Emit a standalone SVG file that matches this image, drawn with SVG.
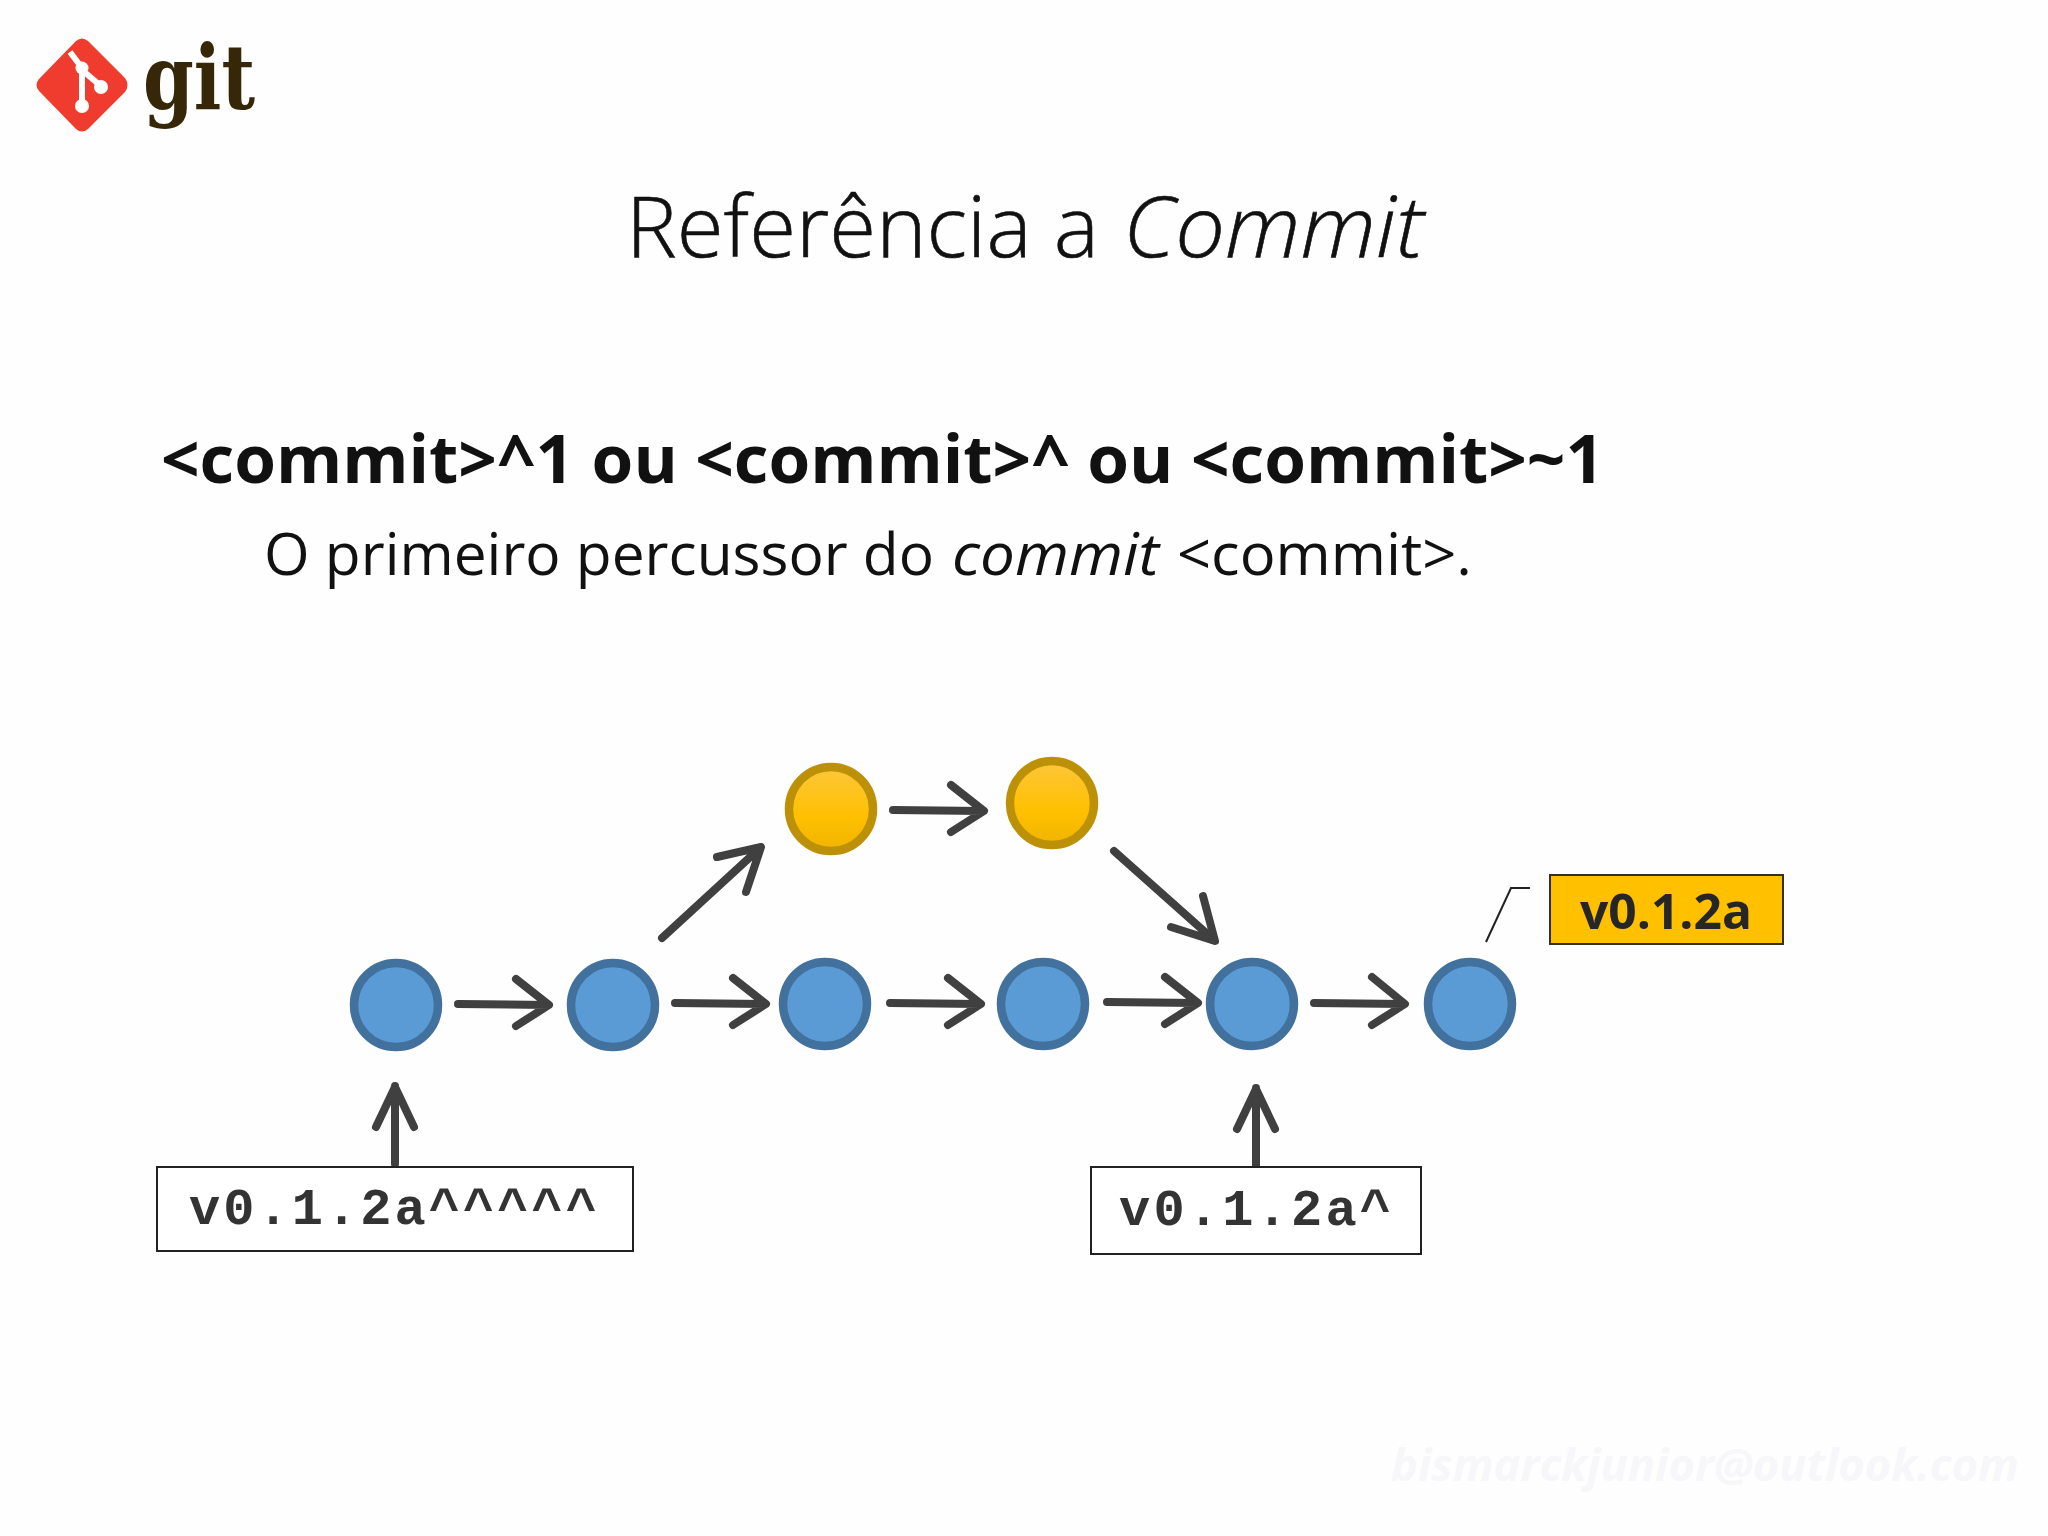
<svg xmlns="http://www.w3.org/2000/svg" width="2048" height="1536" viewBox="0 0 2048 1536">
<style>
.b{fill:#5b9bd5;stroke:#41719c;stroke-width:8.500}
.y{fill:url(#gy);stroke:#bd9107;stroke-width:8.500}
.a{fill:none;stroke:#404040;stroke-width:8;stroke-linecap:round;stroke-linejoin:round}
.box{fill:#fff;stroke:#222;stroke-width:2}
.mono{font-family:"Liberation Mono",monospace;font-weight:700;font-size:52px;fill:#333}
.s{font-family:"Open Sans",sans-serif;fill:#111}
</style>
<defs>
<linearGradient id="gy" x1="0" y1="0" x2="0" y2="1"><stop offset="0" stop-color="#fdc63a"/><stop offset="0.6" stop-color="#ffc000"/><stop offset="1" stop-color="#f0b400"/></linearGradient>
</defs>
<rect width="2048" height="1536" fill="#fefefe"/>
<g id="logo">
<path d="M76 41 Q82 36 88 41 L125 78 Q130 85 125 92 L88 129 Q82 134 76 129 L39 91 Q34 85 39 79Z" fill="#f03c2e"/>
<path d="M70 52 L82 68 M82 68 V106 M82 70 L102 87" fill="none" stroke="#fff" stroke-width="6"/>
<circle cx="82" cy="68" r="6.500" fill="#fff"/><circle cx="101" cy="87" r="7" fill="#fff"/><circle cx="82" cy="106" r="7" fill="#fff"/>
<text x="143" y="109" font-family="'DejaVu Serif',serif" font-weight="700" font-size="90" fill="#362709" textLength="112" lengthAdjust="spacingAndGlyphs">git</text>
</g>
<g id="title" class="s" font-size="84" font-weight="300" stroke="#111" stroke-width="0.600">
<text class="s" x="626" y="257" textLength="473" lengthAdjust="spacingAndGlyphs">Referência a</text>
<text class="s" x="1123" y="257" font-style="italic" textLength="301" lengthAdjust="spacingAndGlyphs">Commit</text>
</g>
<text id="heading" class="s" x="161" y="483" font-size="66" font-weight="700" fill="#0a0a0a" textLength="1443" lengthAdjust="spacingAndGlyphs">&lt;commit&gt;^1 ou &lt;commit&gt;^ ou &lt;commit&gt;~1</text>
<g id="desc" class="s" font-size="58">
<text class="s" x="264" y="575" textLength="670" lengthAdjust="spacingAndGlyphs">O primeiro percussor do</text>
<text class="s" x="952" y="575" font-style="italic" textLength="207" lengthAdjust="spacingAndGlyphs">commit</text>
<text class="s" x="1177" y="575" textLength="295" lengthAdjust="spacingAndGlyphs">&lt;commit&gt;.</text>
</g>
<g id="connectors">
<path class="a" d="M458 1004 L548 1005 M516 979 L549 1005 L516 1026"/>
<path class="a" d="M675 1003 L765 1004 M733 978 L766 1004 L733 1025"/>
<path class="a" d="M890 1003 L980 1004 M948 978 L981 1004 L948 1025"/>
<path class="a" d="M1107 1002 L1197 1003 M1165 977 L1198 1003 L1165 1024"/>
<path class="a" d="M1314 1003 L1404 1004 M1372 977 L1405 1004 L1372 1025"/>
<path class="a" d="M893 810 L983 811 M951 785 L984 811 L951 832"/>
<path class="a" d="M662 938 L760 848 M717 857 L761 847 L746 892"/>
<path class="a" d="M1114 851 L1214 940 M1203 896 L1215 941 L1171 927"/>
<path class="a" d="M395 1164 V1086 M376 1127 L395 1087 L414 1127"/>
<path class="a" d="M1256 1166 V1088 M1237 1129 L1256 1089 L1275 1129"/>
<path fill="none" stroke="#222" stroke-width="2" d="M1486 942 L1511 888 H1530"/>
</g>
<g id="n1"><circle class="b" cx="396" cy="1005" r="42"/></g>
<g id="n2"><circle class="b" cx="613" cy="1005" r="42"/></g>
<g id="n3"><circle class="b" cx="825" cy="1004" r="42"/></g>
<g id="n4"><circle class="b" cx="1043" cy="1004" r="42"/></g>
<g id="n5"><circle class="b" cx="1252" cy="1004" r="42"/></g>
<g id="n6"><circle class="b" cx="1470" cy="1004" r="42"/></g>
<g id="y1"><circle class="y" cx="831" cy="809" r="42"/></g>
<g id="y2"><circle class="y" cx="1052" cy="803" r="42"/></g>
<g id="tag"><rect x="1550" y="875" width="233" height="69" fill="#ffc000" stroke="#33302a" stroke-width="2"/>
<text x="1666" y="929" text-anchor="middle" font-family="'Open Sans',sans-serif" font-weight="700" font-size="48" fill="#262626" textLength="172" lengthAdjust="spacingAndGlyphs">v0.1.2a</text></g>
<g id="l1"><rect class="box" x="157" y="1167" width="476" height="84"/>
<text class="mono" x="189" y="1224" textLength="408">v0.1.2a^^^^^</text></g>
<g id="l2"><rect class="box" x="1091" y="1167" width="330" height="87"/>
<text class="mono" x="1119" y="1225" textLength="272">v0.1.2a^</text></g>
<text id="mark" x="1391" y="1481" font-family="'Open Sans',sans-serif" font-style="italic" font-weight="700" font-size="44" fill="#f7f6f9" textLength="628" lengthAdjust="spacingAndGlyphs">bismarckjunior@outlook.com</text>
</svg>
